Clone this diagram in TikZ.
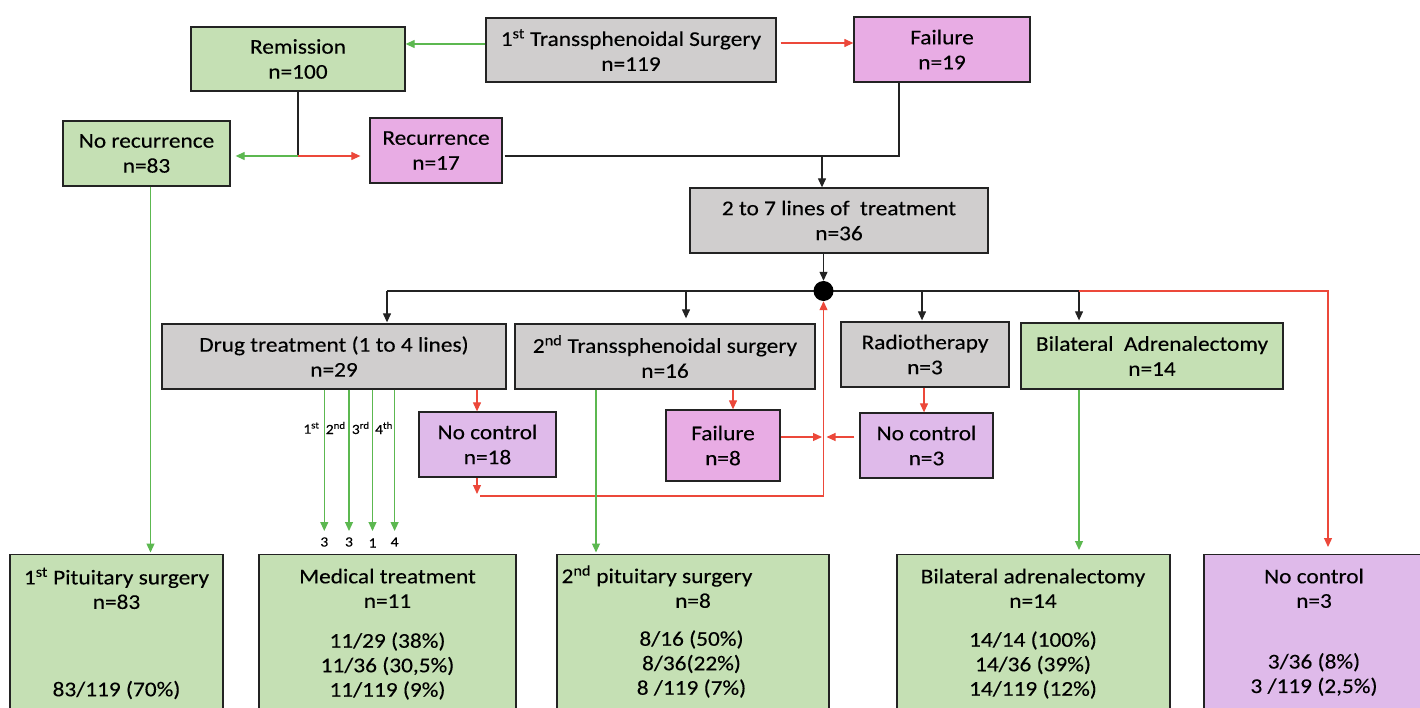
\documentclass[tikz,border=0pt]{standalone}
\usepackage{fontspec}
\setmainfont[FakeStretch=1.11,FakeBold=0.25]{Carlito}
\usetikzlibrary{arrows.meta}
\definecolor{gfill}{RGB}{197,224,180}
\definecolor{kfill}{RGB}{208,206,206}
\definecolor{pfill}{RGB}{232,172,228}
\definecolor{lfill}{RGB}{223,186,234}
\definecolor{gline}{RGB}{92,184,80}
\definecolor{rline}{RGB}{236,72,58}
\definecolor{kline}{RGB}{35,35,35}
\begin{document}
\begin{tikzpicture}[x=1pt,y=-1pt,
  box/.style={draw=kline, line width=1.3pt, inner sep=0pt, align=center, font=\fontsize{21}{25}\selectfont},
  txt/.style={inner sep=0pt, align=center, font=\fontsize{21}{24.5}\selectfont},
  small/.style={inner sep=0pt, font=\fontsize{14}{16}\selectfont},
  ahead/.style={-{Triangle[length=9pt,width=8pt]}},
  kln/.style={draw=kline, line width=1.2pt},
  kar/.style={kln, ahead},
  gar/.style={draw=gline, line width=1.2pt, ahead},
  rar/.style={draw=rline, line width=1.2pt, ahead},
  dotnode/.style={circle, fill=black, minimum size=20pt, inner sep=0pt}
]
\useasboundingbox (0,0) rectangle (1420,708);
\clip (0,0) rectangle (1420,708);
\fill[white] (0,0) rectangle (1420,708);

% top row
\node[box, fill=kfill, minimum width=290pt, minimum height=64pt] (trans1) at (631,50) {1\textsuperscript{st} Transsphenoidal Surgery\\n=119};
\node[box, fill=gfill, minimum width=214pt, minimum height=64pt] (remission) at (298,59) {Remission\\n=100};
\node[box, fill=pfill, minimum width=176pt, minimum height=65pt] (fail1) at (942,49.5) {Failure\\n=19};
\node[box, fill=gfill, minimum width=167pt, minimum height=65pt] (norec) at (146.5,153.5) {No recurrence\\n=83};
\node[box, fill=pfill, minimum width=132pt, minimum height=65pt] (recur) at (436,150.5) {Recurrence\\n=17};
\node[box, fill=kfill, minimum width=298pt, minimum height=65pt] (lines) at (839,220.5) {2 to 7 lines of\ \ treatment\\n=36};

% middle row
\node[box, fill=kfill, minimum width=344pt, minimum height=65pt] (drug) at (334,356.5) {Drug treatment (1 to 4 lines)\\n=29};
\node[box, fill=kfill, minimum width=300pt, minimum height=65pt] (trans2) at (665,356.5) {2\textsuperscript{nd} Transsphenoidal surgery\hspace{8pt}\\n=16};
\node[box, fill=kfill, minimum width=168pt, minimum height=65pt] (radio) at (925,354.5) {Radiotherapy\\n=3};
\node[box, fill=gfill, minimum width=262pt, minimum height=66pt] (bilat) at (1152,356) {Bilateral\ \ Adrenalectomy\\n=14};
\node[box, fill=lfill, minimum width=137pt, minimum height=65pt] (noc1) at (487.5,444.5) {No control\\n=18};
\node[box, fill=pfill, minimum width=114pt, minimum height=71pt] (fail2) at (723,445.5) {Failure\\n=8};
\node[box, fill=lfill, minimum width=133pt, minimum height=65pt] (noc2) at (926.5,445.5) {No control\\n=3};

% bottom row
\node[box, fill=gfill, minimum width=213pt, minimum height=200pt, anchor=north] (pit1) at (116.5,554) {};
\node[box, fill=gfill, minimum width=257pt, minimum height=200pt, anchor=north] (med) at (387.5,554) {};
\node[box, fill=gfill, minimum width=272pt, minimum height=200pt, anchor=north] (pit2) at (693,554) {};
\node[box, fill=gfill, minimum width=273pt, minimum height=200pt, anchor=north] (bad) at (1033.5,554) {};
\node[box, fill=lfill, minimum width=221pt, minimum height=200pt, anchor=north] (noc3) at (1314.5,554) {};

\node[txt] (pit1t) at (116.5,588.3) {1\textsuperscript{st} Pituitary surgery\\n=83};
\node[txt] (pit1p) at (116.5,690) {83/119 (70\%)};
\node[txt] (medt) at (387.5,588.3) {Medical treatment\\n=11};
\node[txt] (medp) at (387.5,666) {11/29 (38\%)\\11/36 (30,5\%)\\11/119 (9\%)};
\node[txt] (pit2t) at (657,576) {2\textsuperscript{nd} pituitary surgery};
\node[txt] (pit2n) at (693,600.7) {n=8};
\node[txt] (pit2p) at (691.5,664) {8/16 (50\%)\\8/36(22\%)\\8 /119 (7\%)};
\node[txt] (badt) at (1033,588.3) {Bilateral adrenalectomy\\n=14};
\node[txt] (badp) at (1033,665) {14/14 (100\%)\\14/36 (39\%)\\14/119 (12\%)};
\node[txt] (noc3t) at (1314,588.3) {No control\\n=3};
\node[txt] (noc3p) at (1314,674.5) {3/36 (8\%)\\3 /119 (2,5\%)};

% coordinates
\coordinate (j1) at (298,156);
\coordinate (j2) at (899,156);
\coordinate (j3) at (822,156);
\coordinate (bL) at (387,291);
\coordinate (b2) at (686,291);
\coordinate (b3) at (922,291);
\coordinate (bR) at (1079,291);
\coordinate (bE) at (1328,291);
\coordinate (rL) at (480,496);
\coordinate (rB) at (823.5,496);
\coordinate (m) at (823.5,437);
\coordinate (gx0) at (150.5,0);
\coordinate (gx2) at (596,0);
\coordinate (rx1) at (477,0);
\coordinate (rx2) at (733,0);
\coordinate (rx3) at (924,0);
\coordinate (d1) at (324.3,531);
\coordinate (d2) at (349,531);
\coordinate (d3) at (372.5,531);
\coordinate (d4) at (394.6,531);

% top connectors
\draw[gar] ([yshift=6pt]trans1.west) -- ([yshift=6pt]trans1.west -| remission.east);
\draw[rar] ([xshift=4pt,yshift=7pt]trans1.east) -- ([yshift=7pt]trans1.east -| fail1.west);
\draw[kln] (remission.south) -- (j1);
\draw[gar] (j1) -- ([xshift=5pt]j1 -| norec.east);
\draw[rar] (j1) -- ([xshift=-9pt]j1 -| recur.west);
\draw[kln] ([xshift=2pt]recur.east |- j2) -- (j2) -- (j2 |- fail1.south);
\draw[kar] (j3) -- (j3 |- lines.north);

% branch
\draw[kln] (bL) -- (bR);
\node[dotnode] (dot) at (823.5,291) {};
\draw[kar] (lines.south -| dot) -- (dot.north);
\draw[kar, shorten >=1pt] (bL) -- (bL |- drug.north);
\draw[kar, shorten >=5pt] (b2) -- (b2 |- trans2.north);
\draw[kar, shorten >=1pt] (b3) -- (b3 |- radio.north);
\draw[kar, shorten >=2pt] (bR) -- (bR |- bilat.north);
\draw[rar, shorten >=7pt] (bR) -- (bE) -- (bE |- noc3.north);

% drug lines
\draw[gar] (d1 |- drug.south) -- (d1);
\draw[gar] (d2 |- drug.south) -- (d2);
\draw[gar] (d3 |- drug.south) -- (d3);
\draw[gar] (d4 |- drug.south) -- (d4);
\node[small] (l1) at (311.4,428) {1\textsuperscript{st}};
\node[small] (l2) at (335.7,428) {2\textsuperscript{nd}};
\node[small] (l3) at (360.7,428) {3\textsuperscript{rd}};
\node[small] (l4) at (384,428) {4\textsuperscript{th}};
\node[small] (c1) at (324.3,542) {3};
\node[small] (c2) at (349,542) {3};
\node[small] (c3) at (372.5,543) {1};
\node[small] (c4) at (394.6,542) {4};

% red connectors
\draw[rar] (drug.south -| rx1) -- (noc1.north -| rx1);
\draw[rar, shorten >=2pt] (noc1.south -| rx1) -- (rL -| rx1);
\draw[rar] (rL) -- (rB) -- (dot.south);
\draw[rar] (trans2.south -| rx2) -- (fail2.north -| rx2);
\draw[rar, shorten >=1.5pt] (fail2.east |- m) -- (m);
\draw[rar, shorten >=3pt] ([xshift=-5pt]noc2.west |- m) -- (m);
\draw[rar] (radio.south -| rx3) -- (noc2.north -| rx3);

% green connectors to results
\draw[gar, shorten >=1.5pt] (norec.south -| gx0) -- (pit1.north -| gx0);
\draw[gar, shorten >=1.5pt] (trans2.south -| gx2) -- (pit2.north -| gx2);
\draw[gar, shorten >=4pt] (bilat.south -| bR) -- (bad.north -| bR);
\end{tikzpicture}
\end{document}
